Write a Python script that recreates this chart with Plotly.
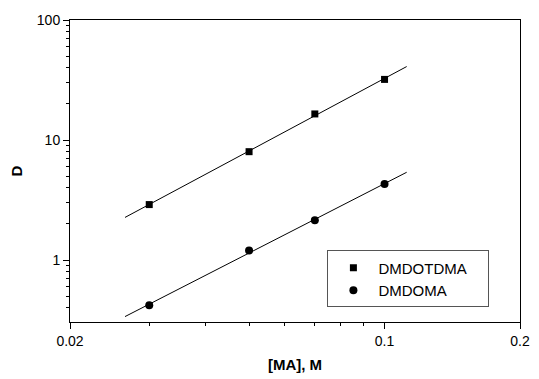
import numpy as np
import plotly.graph_objects as go

ma = [0.03, 0.05, 0.07, 0.1]
d_dmdotdma = [2.9, 8.0, 16.5, 32.0]
d_dmdoma = [0.42, 1.2, 2.15, 4.3]
fit_range = [0.0265, 0.112]
names = ["DMDOTDMA", "DMDOMA"]

def fit(x, y):
    s, b = np.polyfit(np.log10(x), np.log10(y), 1)
    xf = np.array(fit_range)
    return xf, 10 ** (b + s * np.log10(xf))

fig = go.Figure()
for y, sym, name, sz in [(d_dmdotdma, "square", names[0], 7), (d_dmdoma, "circle", names[1], 8)]:
    xf, yf = fit(ma, y)
    fig.add_trace(go.Scatter(x=xf, y=yf, mode="lines", line=dict(color="black", width=1),
                             showlegend=False, hoverinfo="skip"))
    fig.add_trace(go.Scatter(x=ma, y=y, mode="markers", name=name + "\u00a0\u00a0\u00a0\u00a0",
                             marker=dict(symbol=sym, size=sz, color="black")))

font = dict(family="Liberation Sans, Arial", size=14, color="black")
fig.update_layout(
    width=539, height=379,
    margin=dict(l=70, r=9, t=20, b=47),
    plot_bgcolor="white", paper_bgcolor="white",
    font=font,
    legend=dict(x=0.572, y=0.237, xanchor="left", yanchor="top",
                bordercolor="#555555", borderwidth=1, bgcolor="white",
                font=dict(family="Liberation Sans, Arial", size=15, color="black"),
                itemsizing="trace", tracegroupgap=0, itemwidth=40),
    xaxis=dict(type="log", range=[np.log10(0.02), np.log10(0.2)],
               tickvals=[0.02, 0.1, 0.2], ticktext=["0.02", "0.1", "0.2"],
               ticks="outside", ticklen=6, tickcolor="black", linecolor="black", linewidth=1,
               mirror=True, showgrid=False, zeroline=False,
               minor=dict(tickvals=[0.03, 0.04, 0.05, 0.06, 0.07, 0.08, 0.09],
                          ticks="outside", ticklen=3, tickcolor="black", showgrid=False),
               title=dict(text="<b>[MA], M</b>", font=dict(size=15), standoff=11)),
    yaxis=dict(type="log", range=[np.log10(0.305), 2],
               tickvals=[1, 10, 100], ticktext=["1", "10", "100"],
               ticks="outside", ticklen=6, tickcolor="black", linecolor="black", linewidth=1,
               mirror=True, showgrid=False, zeroline=False,
               minor=dict(tickvals=[0.4, 0.5, 0.6, 0.7, 0.8, 0.9, 2, 3, 4, 5, 6, 7, 8, 9,
                                    20, 30, 40, 50, 60, 70, 80, 90],
                          ticks="outside", ticklen=3, tickcolor="black", showgrid=False),
               title=dict(text="<b>D</b>", font=dict(size=15), standoff=10)),
)
fig.write_html("out.html")
